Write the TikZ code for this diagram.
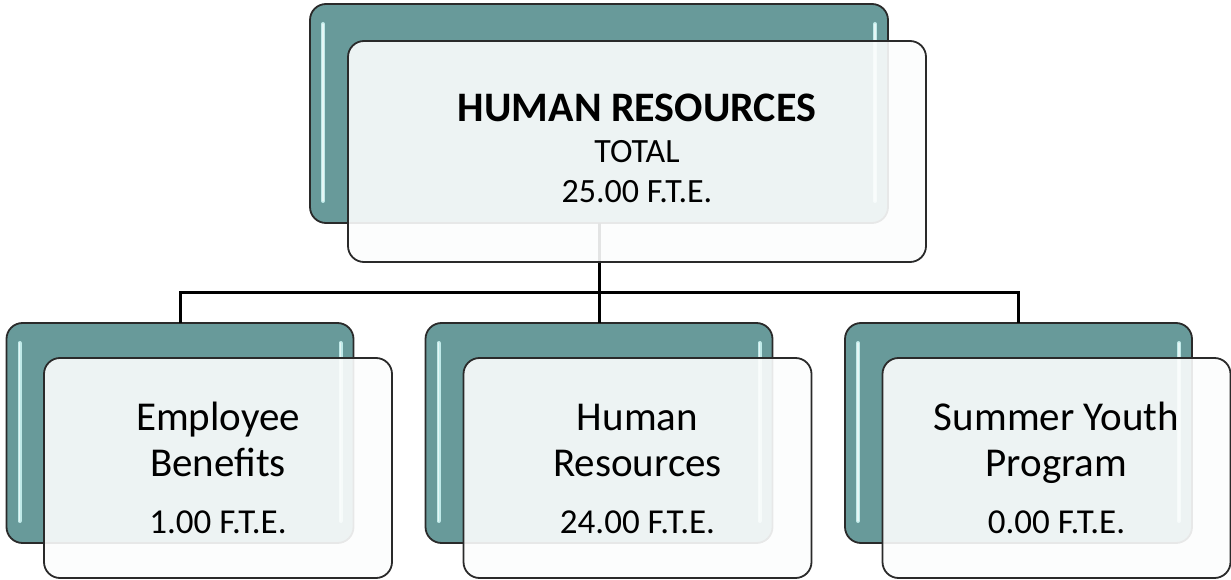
\documentclass[tikz,border=0pt]{standalone}
\usepackage{fontspec}
\setmainfont{Carlito}
\definecolor{tealbox}{HTML}{689A9A}
\definecolor{glossc}{HTML}{BFE9E8}
\definecolor{edgec}{HTML}{2A2A2A}
\definecolor{frontc}{HTML}{FCFDFD}
\begin{document}
\begin{tikzpicture}[x=1pt,y=-1pt,
  backbox/.style={draw=edgec,line width=1.8pt,rounded corners=16pt,fill=tealbox,inner sep=0pt,outer sep=0pt},
  frontbox/.style={draw=edgec,line width=1.8pt,rounded corners=16pt,fill=frontc,fill opacity=0.9,inner sep=0pt,outer sep=0pt},
  gloss/.style={glossc,line width=4pt,line cap=round},
  glosscore/.style={white,opacity=0.6,line width=1.2pt,line cap=round},
  conn/.style={black,line width=3pt},
  titletxt/.style={anchor=base,font=\bfseries\fontsize{42}{48}\selectfont,inner sep=0pt},
  subtxt/.style={anchor=base,font=\fontsize{34}{40}\selectfont,inner sep=0pt},
  nametxt/.style={anchor=base,font=\fontsize{41}{48}\selectfont,inner sep=0pt},
  ftetxt/.style={anchor=base,font=\fontsize{35}{40}\selectfont,inner sep=0pt}]
\useasboundingbox (0,0) rectangle (1231,580);
% back boxes
\node[backbox,minimum width=578pt,minimum height=219pt] (tb) at (599,113.5) {};
\node[backbox,minimum width=347pt,minimum height=220pt] (b1) at (180,433) {};
\node[backbox,minimum width=347pt,minimum height=220pt] (b2) at (599,433) {};
\node[backbox,minimum width=347pt,minimum height=220pt] (b3) at (1018.5,433) {};
% gloss strips
\foreach \n in {tb,b1,b2,b3}{
  \draw[gloss] ([xshift=13pt,yshift=-20pt]\n.north west) -- ([xshift=13pt,yshift=22pt]\n.south west);
  \draw[glosscore] ([xshift=13pt,yshift=-20pt]\n.north west) -- ([xshift=13pt,yshift=22pt]\n.south west);
  \draw[gloss] ([xshift=-13pt,yshift=-20pt]\n.north east) -- ([xshift=-13pt,yshift=22pt]\n.south east);
  \draw[glosscore] ([xshift=-13pt,yshift=-20pt]\n.north east) -- ([xshift=-13pt,yshift=22pt]\n.south east);
}
% connectors
\coordinate (j) at (599,292);
\draw[conn] (tb.south) -- (j);
\draw[conn] (j) -| (b1.north);
\draw[conn] (j) -- (b2.north);
\draw[conn] (j) -| (b3.north);
% front boxes
\node[frontbox,minimum width=578pt,minimum height=221pt] (tf) at (637,151.5) {};
\node[frontbox,minimum width=348pt,minimum height=220pt] (f1) at (218,468) {};
\node[frontbox,minimum width=348pt,minimum height=220pt] (f2) at (637.5,468) {};
\node[frontbox,minimum width=348pt,minimum height=220pt] (f3) at (1056.5,468) {};
% texts
\node[titletxt] (t1) at (637,122) {HUMAN RESOURCES};
\node[subtxt] (t2) at (637,163) {TOTAL};
\node[subtxt] (t3) at (637,203) {25.00 F.T.E.};
\node[nametxt] (n1a) at (218,430) {Employee};
\node[nametxt] (n1b) at (218,476) {Benefits};
\node[ftetxt] (n1c) at (218,533) {1.00 F.T.E.};
\node[nametxt] (n2a) at (637.5,430) {Human};
\node[nametxt] (n2b) at (637.5,476) {Resources};
\node[ftetxt] (n2c) at (637.5,533) {24.00 F.T.E.};
\node[nametxt] (n3a) at (1056.5,430) {Summer Youth};
\node[nametxt] (n3b) at (1056.5,476) {Program};
\node[ftetxt] (n3c) at (1056.5,533) {0.00 F.T.E.};
\end{tikzpicture}
\end{document}
